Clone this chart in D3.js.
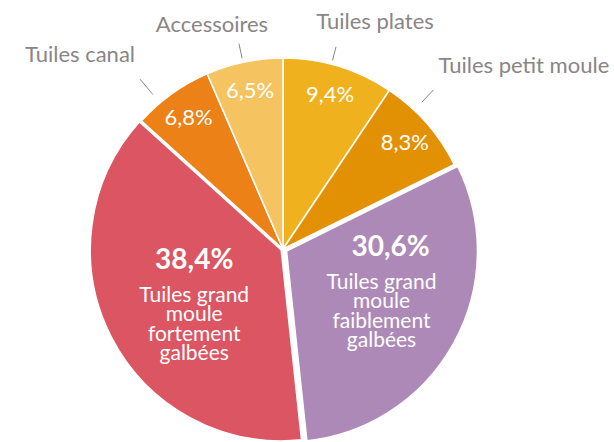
<!DOCTYPE html>
<html lang="fr">
<head>
    <meta charset="utf-8">
    <title>Répartition des tuiles</title>
    <script src="https://d3js.org/d3.v7.min.js"></script>
    <style>
        body { margin: 0; background: #fff; }
        svg text { font-family: Lato, "Open Sans", sans-serif; }
    </style>
</head>
<body>
    <div id="chart"></div>
    <script>

        // data, clockwise from 12 o'clock
        const categories = [
            "Tuiles plates",
            "Tuiles petit moule",
            "Tuiles grand moule faiblement galbées",
            "Tuiles grand moule fortement galbées",
            "Tuiles canal",
            "Accessoires"
        ];
        const values = [9.4, 8.3, 30.6, 38.4, 6.8, 6.5];
        const colors = ["#F0B11E", "#E39104", "#AD89B7", "#DC5562", "#EB8117", "#F5C35F"];

        // big slices get the name written inside, the others get a label outside
        const insideNames = [null, null, ["Tuiles grand", "moule", "faiblement", "galbées"], ["Tuiles grand", "moule", "fortement", "galbées"], null, null];

        const width = 614, height = 442;
        const cx = 283, cy = 249, r = 191;

        const svg = d3.select("#chart")
            .append("svg")
            .attr("width", width)
            .attr("height", height);

        const g = svg.append("g").attr("transform", `translate(${cx},${cy})`);

        const pie = d3.pie().sort(null).value(d => d.value);
        const arcs = pie(values.map((v, i) => ({ value: v, i: i })));

        const arc = d3.arc().innerRadius(0).outerRadius(r);
        const fmt = v => v.toFixed(1).replace(".", ",") + "%";

        // point on a circle for an angle measured clockwise from the top
        const polar = (a, rad) => [Math.sin(a) * rad, -Math.cos(a) * rad];
        const mid = d => (d.startAngle + d.endAngle) / 2;

        // the two big slices are pulled out a little
        const explode = [0, 0, 4, 2, 0, 0];

        const slices = g.selectAll("g.slice")
            .data(arcs)
            .enter()
            .append("g")
            .attr("class", "slice")
            .attr("transform", d => {
                const p = polar(mid(d), explode[d.index]);
                return `translate(${p[0]},${p[1]})`;
            });

        slices.append("path")
            .attr("d", arc)
            .style("fill", (d, i) => colors[i])
            .style("stroke", "#fff")
            .style("stroke-width", 1.6)
            .style("stroke-linejoin", "round");

        // small slices: value inside, name outside with a short leader line
        const small = slices.filter(d => !insideNames[d.index]);

        small.append("text")
            .attr("x", d => polar(mid(d), 162)[0])
            .attr("y", d => polar(mid(d), 162)[1])
            .attr("dy", "0.36em")
            .attr("text-anchor", "middle")
            .style("fill", "#fff")
            .style("font-size", "22px")
            .text(d => fmt(d.value));

        // leader lines: angle, start and end distance beyond the rim
        const lineAngle = [14.7, 43.4, 0, 0, 319.9, 347.9].map(a => a * Math.PI / 180);
        const lineFrom = [4, 11, 0, 0, 11, 4];
        const lineTo = [18, 28, 0, 0, 31, 19];
        const lineEnd = d => polar(lineAngle[d.index], r + lineTo[d.index]);

        small.append("line")
            .attr("x1", d => polar(lineAngle[d.index], r + lineFrom[d.index])[0])
            .attr("y1", d => polar(lineAngle[d.index], r + lineFrom[d.index])[1])
            .attr("x2", d => lineEnd(d)[0])
            .attr("y2", d => lineEnd(d)[1])
            .style("stroke", "#8a8585")
            .style("stroke-width", 1);

        // where the outer name sits, relative to the outer end of its leader line
        const nameShift = [[39, -18, "middle"], [5, -17, "start"], null, null, [-5, -17, "end"], [-27, -12, "middle"]];

        small.append("text")
            .attr("x", d => lineEnd(d)[0] + nameShift[d.index][0])
            .attr("y", d => lineEnd(d)[1] + nameShift[d.index][1])
            .attr("text-anchor", d => nameShift[d.index][2])
            .style("fill", "#8a8585")
            .style("font-size", "22px")
            .text(d => categories[d.index]);

        // big slices: bold value then the name over several lines
        const bigPos = [null, null, [104, 5, 9], [-87, 19, 0]];
        const big = slices.filter(d => insideNames[d.index]);

        big.append("text")
            .attr("x", d => bigPos[d.index][0])
            .attr("y", d => bigPos[d.index][1])
            .attr("text-anchor", "middle")
            .style("fill", "#fff")
            .style("font-size", "28px")
            .style("font-weight", "bold")
            .text(d => fmt(d.value));

        big.each(function(d) {
            const t = d3.select(this).append("text")
                .attr("text-anchor", "middle")
                .style("fill", "#fff")
                .style("font-size", "21px");
            t.selectAll("tspan")
                .data(insideNames[d.index])
                .enter()
                .append("tspan")
                .attr("x", bigPos[d.index][0] - bigPos[d.index][2])
                .attr("y", (s, k) => bigPos[d.index][1] + 33 + k * 19.5)
                .text(s => s);
        });

    </script>
</body>
</html>
